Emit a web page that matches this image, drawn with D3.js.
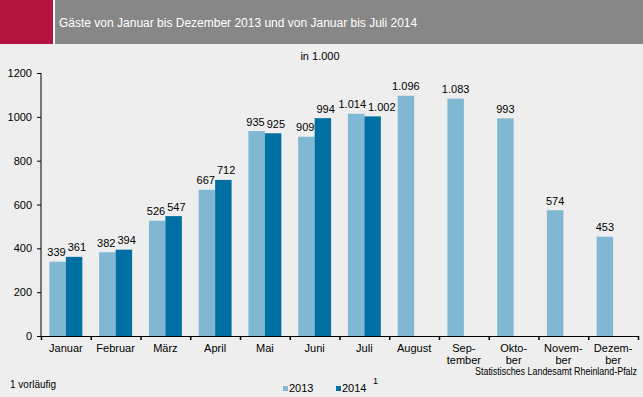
<!DOCTYPE html>
<html>
<head>
<meta charset="utf-8">
<script src="https://cdn.jsdelivr.net/npm/d3@7"></script>
<style>
  html, body { margin: 0; padding: 0; background: #edeeed; }
  svg { display: block; font-family: "Liberation Sans", Arial, sans-serif; }
</style>
</head>
<body>
<svg id="chart" width="643" height="397"></svg>
<script>
// values in 1.000 guests
const months = ["Januar", "Februar", "März", "April", "Mai", "Juni", "Juli", "August",
                "Sep-\ntember", "Okto-\nber", "Novem-\nber", "Dezem-\nber"];
const years = ["2013", "2014"];
const guests2013 = [339, 382, 526, 667, 935, 909, 1014, 1096, 1083, 993, 574, 453];
const guests2014 = [361, 394, 547, 712, 925, 994, 1002, null, null, null, null, null];
const yTicks = [0, 200, 400, 600, 800, 1000, 1200];

const colors = {"2013": "#80b8d3", "2014": "#0070a2"};
const de = d3.formatLocale({decimal: ",", thousands: ".", grouping: [3], currency: ["", " €"]});
const fmt = de.format(",d");

let svg = d3.select("#chart");
const W = 643, H = 397;

// header
svg.append("rect").attr("x", 0).attr("y", 0).attr("width", W).attr("height", H).attr("fill", "#edeeed");
svg.append("rect").attr("x", 0).attr("y", 0).attr("width", 53).attr("height", 44).attr("fill", "#b5133f");
svg.append("rect").attr("x", 53).attr("y", 0).attr("width", 2).attr("height", 44).attr("fill", "#ffffff");
svg.append("rect").attr("x", 55).attr("y", 0).attr("width", W - 55).attr("height", 44).attr("fill", "#878787");
svg.append("text")
    .attr("x", 59).attr("y", 27)
    .attr("fill", "#ffffff").attr("font-size", "12px")
    .text("Gäste von Januar bis Dezember 2013 und von Januar bis Juli 2014");

svg.append("text")
    .attr("x", 320).attr("y", 60)
    .attr("text-anchor", "middle").attr("font-size", "11px").attr("fill", "#000")
    .text("in 1.000");

// scales
let x0 = d3.scaleBand().domain(months).range([41, 638]).padding(0);
let x1 = d3.scaleBand().domain(years).range([0, x0.bandwidth()]).paddingInner(0).paddingOuter(0.51);
let y = d3.scaleLinear().domain([0, 1200]).range([336, 73]);

let rows = months.map(function(m, i) {
    return {month: m, values: [
        {year: "2013", value: guests2013[i]},
        {year: "2014", value: guests2014[i]}
    ].filter(function(d) { return d.value != null; })};
});

// bars
let groups = svg.selectAll("g.month")
    .data(rows)
    .enter()
    .append("g")
    .attr("class", "month")
    .attr("transform", function(d) { return "translate(" + x0(d.month) + ",0)"; });

groups.selectAll("rect")
    .data(function(d) { return d.values; })
    .enter()
    .append("rect")
    .attr("x", function(d) { return x1(d.year); })
    .attr("y", function(d) { return y(d.value); })
    .attr("width", x1.bandwidth())
    .attr("height", function(d) { return y(0) - y(d.value); })
    .attr("fill", function(d) { return colors[d.year]; });

groups.selectAll("text.val")
    .data(function(d) { return d.values; })
    .enter()
    .append("text")
    .attr("class", "val")
    .attr("x", function(d) { return x1(d.year) + x1.bandwidth() / 2; })
    .attr("y", function(d) { return y(d.value) - 5.5; })
    .attr("text-anchor", "middle")
    .attr("font-size", "11px")
    .attr("fill", "#000")
    .text(function(d) { return fmt(d.value); });

// push the two labels of a month apart so they don't collide
groups.each(function() {
    let t = d3.select(this).selectAll("text.val").nodes();
    if (t.length < 2) return;
    let a = t[0], b = t[1];
    let ax = +a.getAttribute("x"), bx = +b.getAttribute("x");
    let aw = a.getComputedTextLength(), bw = b.getComputedTextLength();
    let overlap = (ax + aw / 2) - (bx - bw / 2) + 2;
    if (overlap > 0) {
        a.setAttribute("x", ax - overlap * 0.3);
        b.setAttribute("x", bx + overlap * 0.7);
    }
});

// y axis
let gY = svg.append("g")
    .attr("transform", "translate(41,0)")
    .call(d3.axisLeft(y).tickValues(yTicks).tickSize(4).tickPadding(5).tickFormat(d3.format("d")));
gY.select(".domain").attr("d", "M0," + y(0) + "V" + y(1200));
gY.selectAll("text").attr("font-size", "11px").attr("font-family", null).attr("fill", "#000");
gY.selectAll("line").attr("stroke", "#000");

// x axis: boundary ticks
let xb = d3.scaleLinear().domain([0, 12]).range([41, 638]);
let gX = svg.append("g")
    .attr("transform", "translate(0," + y(0) + ")")
    .call(d3.axisBottom(xb).tickValues(d3.range(13)).tickSize(4).tickSizeOuter(0).tickFormat(""));
gX.select(".domain").attr("stroke", "#000");
gX.selectAll("line").attr("stroke", "#000").attr("stroke-width", 1.5);

// month labels
let lab = svg.append("g").selectAll("text")
    .data(months)
    .enter()
    .append("text")
    .attr("x", function(d) { return x0(d) + x0.bandwidth() / 2; })
    .attr("y", 352)
    .attr("text-anchor", "middle")
    .attr("font-size", "11px")
    .attr("fill", "#000");
lab.selectAll("tspan")
    .data(function(d) { return d.split("\n"); })
    .enter()
    .append("tspan")
    .attr("x", function() { return d3.select(this.parentNode).attr("x"); })
    .attr("dy", function(d, i) { return i == 0 ? 0 : 12; })
    .text(function(d) { return d; });

// source
svg.append("text")
    .attr("x", 637).attr("y", 375)
    .attr("text-anchor", "end")
    .attr("font-size", "10px")
    .attr("textLength", 162).attr("lengthAdjust", "spacingAndGlyphs")
    .attr("fill", "#000")
    .text("Statistisches Landesamt Rheinland-Pfalz");

// footnote
svg.append("text")
    .attr("x", 10).attr("y", 388)
    .attr("font-size", "10px").attr("fill", "#000")
    .text("1 vorläufig");

// legend
let legendX = {"2013": 283, "2014": 336};
let leg = svg.append("g").selectAll("g")
    .data(years)
    .enter()
    .append("g")
    .attr("transform", function(d) { return "translate(" + legendX[d] + ",386)"; });
leg.append("rect").attr("width", 5).attr("height", 5).attr("fill", function(d) { return colors[d]; });
leg.append("text").attr("x", 6).attr("y", 6).attr("font-size", "11px").attr("fill", "#000")
    .text(function(d) { return d; });
svg.append("text")
    .attr("x", 373).attr("y", 384)
    .attr("font-size", "9px").attr("fill", "#000")
    .text("1");
</script>
</body>
</html>
